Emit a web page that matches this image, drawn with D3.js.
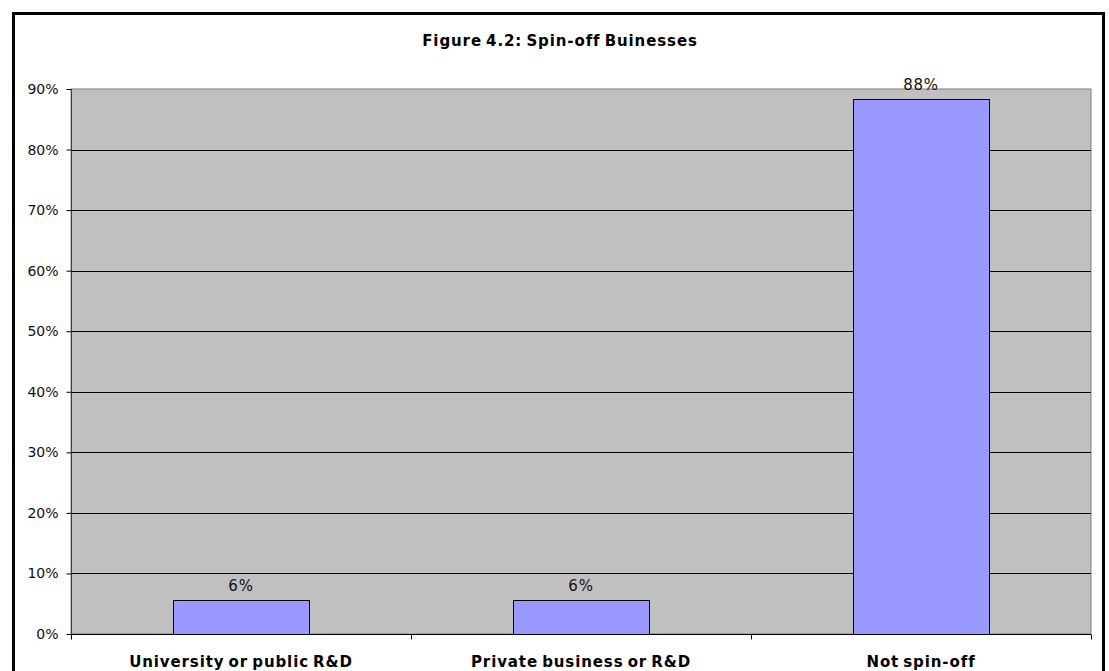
<!DOCTYPE html>
<html>
<head>
<meta charset="utf-8">
<script src="https://cdn.jsdelivr.net/npm/d3@7"></script>
<style>
  html, body { margin: 0; padding: 0; background: #fff; }
  svg { display: block; }
</style>
</head>
<body>
<svg id="chart" width="1109" height="671"></svg>
<script>
// Spin-off business shares
const categories = ["University or public R&D", "Private business or R&D", "Not spin-off"];
const shares = [0.056, 0.056, 0.883];
const yTicks = [0, 0.1, 0.2, 0.3, 0.4, 0.5, 0.6, 0.7, 0.8, 0.9];
const title = "Figure 4.2: Spin-off Buinesses";

const svg = d3.select("#chart");
const plot = { left: 71, top: 89, right: 1091, bottom: 634 };
const FONT = "'DejaVu Sans', Verdana, sans-serif";

// outer frame (bottom edge runs past the page)
svg.append("rect")
  .attr("x", 13.5).attr("y", 13.5)
  .attr("width", 1090).attr("height", 700)
  .attr("fill", "#fff").attr("stroke", "#000").attr("stroke-width", 3);

svg.append("text")
  .attr("x", 560).attr("y", 46)
  .attr("text-anchor", "middle")
  .attr("font-family", FONT)
  .attr("font-weight", "bold")
  .attr("font-size", 15)
  .attr("letter-spacing", 0.9)
  .attr("word-spacing", -2)
  .attr("fill", "#000")
  .text(title);

const x = d3.scaleBand().domain(categories)
  .range([plot.left, plot.right]).paddingInner(0).paddingOuter(0);
const y = d3.scaleLinear().domain([0, 0.9]).range([plot.bottom, plot.top]);

// plot area
svg.append("rect")
  .attr("x", plot.left).attr("y", plot.top)
  .attr("width", plot.right - plot.left).attr("height", plot.bottom - plot.top)
  .attr("fill", "#c0c0c0").attr("stroke", "#808080").attr("stroke-width", 1);

// gridlines
svg.append("g").selectAll("line").data(yTicks.filter(d => d > 0 && d < 0.9)).join("line")
  .attr("x1", plot.left).attr("x2", plot.right)
  .attr("y1", d => Math.round(y(d)) + 0.5).attr("y2", d => Math.round(y(d)) + 0.5)
  .attr("stroke", "#000").attr("stroke-width", 1);

// bars
const barW = x.bandwidth() * 0.4;
svg.append("g").selectAll("rect").data(shares).join("rect")
  .attr("x", (d, i) => Math.round(x(categories[i]) + (x.bandwidth() - barW) / 2) + 0.5)
  .attr("y", d => Math.round(y(d)) + 0.5)
  .attr("width", barW)
  .attr("height", d => y(0) - Math.round(y(d)))
  .attr("fill", "#9999ff").attr("stroke", "#000").attr("stroke-width", 1);

// value labels
svg.append("g").selectAll("text").data(shares).join("text")
  .attr("x", (d, i) => x(categories[i]) + x.bandwidth() / 2)
  .attr("y", d => y(d) - 9)
  .attr("text-anchor", "middle")
  .attr("font-family", FONT)
  .attr("font-size", 15)
  .attr("letter-spacing", 0.8)
  .attr("fill", "#111")
  .text(d => d3.format(".0%")(d));

// y axis
const yAxis = d3.axisLeft(y).tickValues(yTicks).tickFormat(d3.format(".0%"))
  .tickSize(5).tickPadding(8);
const gy = svg.append("g").attr("transform", `translate(${plot.left + 0.5},0)`).call(yAxis);
gy.select(".domain").attr("stroke", "#404040").attr("d", `M0,${plot.top}V${plot.bottom}`);
gy.selectAll(".tick line").attr("stroke", "#000");
gy.selectAll(".tick text")
  .attr("font-family", FONT)
  .attr("font-size", 14).attr("fill", "#111");

// x axis
const xAxis = d3.axisBottom(x).tickSize(0).tickPadding(22);
const gx = svg.append("g").attr("transform", `translate(0,${plot.bottom + 0.5})`).call(xAxis);
gx.select(".domain").attr("stroke", "#000").attr("d", `M${plot.left},0H${plot.right}`);
gx.selectAll(".tick text")
  .attr("font-family", FONT)
  .attr("font-weight", "bold")
  .attr("font-size", 15)
  .attr("letter-spacing", 0.9)
  .attr("word-spacing", -2)
  .attr("fill", "#000");
// category separators
gx.append("g").selectAll("line")
  .data([plot.left, ...categories.map(c => x(c) + x.bandwidth())]).join("line")
  .attr("x1", d => Math.round(d) + 0.5).attr("x2", d => Math.round(d) + 0.5)
  .attr("y1", 0).attr("y2", 5).attr("stroke", "#000");
</script>
</body>
</html>
